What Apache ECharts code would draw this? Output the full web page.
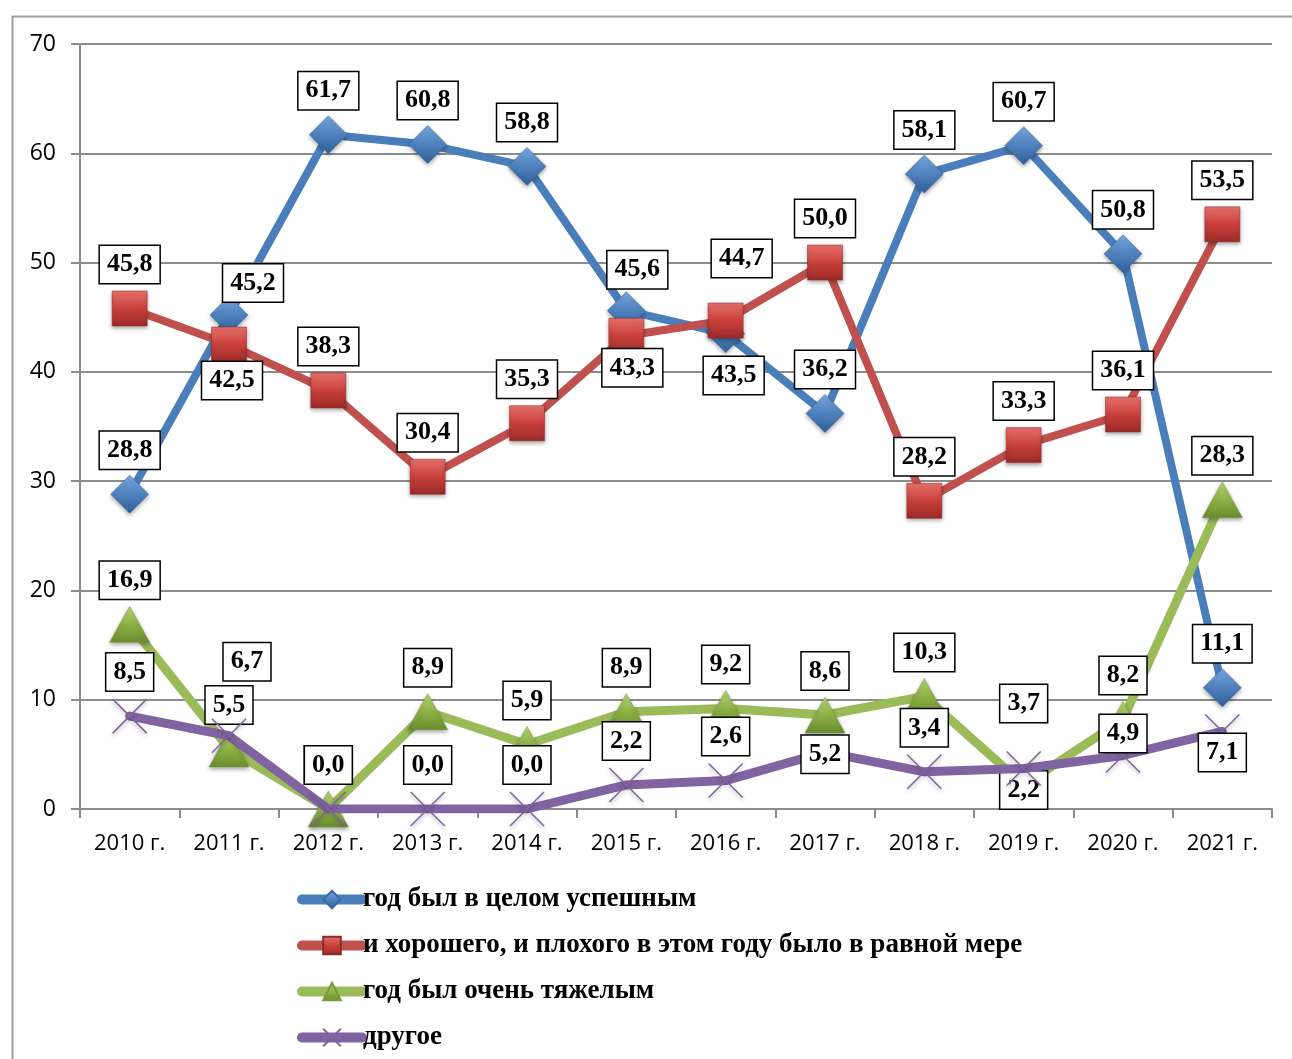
<!DOCTYPE html>
<html>
<head>
<meta charset="utf-8">
<script src="https://cdn.jsdelivr.net/npm/echarts@6/dist/echarts.min.js"></script>
<style>html,body{margin:0;padding:0;background:#fff}#c{width:1292px;height:1059px}</style>
</head>
<body>
<div id="c"></div>
<script>
// ---- data ----
const categories = ['2010 г.','2011 г.','2012 г.','2013 г.','2014 г.','2015 г.','2016 г.','2017 г.','2018 г.','2019 г.','2020 г.','2021 г.'];
const seriesNames = ['год был в целом успешным','и хорошего, и плохого в этом году было в равной мере','год был очень тяжелым','другое'];
const successful = [28.8, 45.2, 61.7, 60.8, 58.8, 45.6, 43.5, 36.2, 58.1, 60.7, 50.8, 11.1];
const mixed      = [45.8, 42.5, 38.3, 30.4, 35.3, 43.3, 44.7, 50.0, 28.2, 33.3, 36.1, 53.5];
const hard       = [16.9, 5.5, 0.0, 8.9, 5.9, 8.9, 9.2, 8.6, 10.3, 2.2, 8.2, 28.3];
const other      = [8.5, 6.7, 0.0, 0.0, 0.0, 2.2, 2.6, 5.2, 3.4, 3.7, 4.9, 7.1];
const yMin = 0, yMax = 70, yStep = 10;

// ---- layout: label nudges (series index -> point index -> [dx, dy]) ----
const defaultNudge = [0, -44];
const labelNudges = {
  0: {1: [24, -32], 5: [11, -41], 6: [8, 42]},
  1: {1: [3, 36], 5: [6, 32], 6: [16, -62]},
  2: {9: [0, 5]},
  3: {1: [18, -74], 7: [0, 2], 9: [0, -65], 10: [0, -22], 11: [0, 21]}
};

function grad(c1, c2, c3) {
  return {type: 'linear', x: 0, y: 0, x2: 0, y2: 1,
    colorStops: [{offset: 0, color: c1}, {offset: 0.5, color: c2}, {offset: 1, color: c3}]};
}

const styles = [
  {color: '#4a7ebb', width: 8, symbol: 'diamond', size: [38, 38], fill: grad('#7aa7e0', '#4f81bd', '#2f5f9a'), border: '#3a6aa5', bw: 0.5},
  {color: '#c0504d', width: 8, symbol: 'rect', size: [35, 35], fill: grad('#e8716d', '#c9403c', '#9a2a27'), border: '#8c2a27', bw: 0.5},
  {color: '#9bbb59', width: 9, symbol: 'triangle', size: [40, 36], fill: grad('#b8d678', '#8fb246', '#6b8c2e'), border: '#7a9a3e', bw: 0.5},
  {color: '#8064a2', width: 9, symbol: 'path://M0,0L10,10M10,0L0,10', size: [34, 34], fill: 'rgba(0,0,0,0)', border: '#8064a2', bw: 1.5}
];

const values = [successful, mixed, hard, other];

const series = values.map((arr, si) => {
  const st = styles[si];
  return {
    name: seriesNames[si],
    type: 'line',
    data: arr.map((v, i) => {
      const n = (labelNudges[si] && labelNudges[si][i]) || defaultNudge;
      return {value: v, label: {offset: n}};
    }),
    symbol: st.symbol,
    symbolSize: st.size,
    symbolKeepAspect: false,
    showAllSymbol: true,
    lineStyle: {color: st.color, width: st.width, join: 'round', cap: 'round'},
    itemStyle: {color: st.fill, borderColor: st.border, borderWidth: st.bw,
      shadowBlur: 4, shadowColor: 'rgba(0,0,0,0.35)', shadowOffsetY: 2},
    color: st.color,
    label: {
      show: true,
      position: 'inside',
      formatter: p => p.value.toFixed(1).replace('.', ','),
      fontFamily: 'Liberation Serif',
      fontWeight: 'bold',
      fontSize: 26,
      lineHeight: 26,
      color: '#000',
      backgroundColor: '#fff',
      borderColor: '#000',
      borderWidth: 1.5,
      padding: [6, 7, 5, 7]
    },
    emphasis: {disabled: true},
    z: 2 + si
  };
});

const chart = echarts.init(document.getElementById('c'), null, {renderer: 'canvas'});
chart.setOption({
  animation: false,
  backgroundColor: '#fff',
  graphic: [{
    type: 'rect', left: 10, top: 14, silent: true,
    shape: {width: 1320, height: 1100},
    style: {fill: 'none', stroke: '#a0a0a0', lineWidth: 2}, z: 0
  }],
  grid: {left: 80, right: 20, top: 44, bottom: 250, containLabel: false},
  xAxis: {
    type: 'category',
    data: categories,
    boundaryGap: true,
    axisLine: {lineStyle: {color: '#8c8c8c', width: 2}},
    axisTick: {show: true, length: 9, inside: false, lineStyle: {color: '#8c8c8c', width: 2}},
    axisLabel: {fontFamily: 'Open Sans', fontSize: 22, color: '#000', margin: 24},
    splitLine: {show: false}
  },
  yAxis: {
    type: 'value',
    min: yMin, max: yMax, interval: yStep,
    axisLine: {show: true, lineStyle: {color: '#8c8c8c', width: 2}},
    axisTick: {show: true, length: 9, lineStyle: {color: '#8c8c8c', width: 2}},
    axisLabel: {fontFamily: 'Open Sans', fontSize: 23, color: '#000', margin: 24},
    splitLine: {show: true, lineStyle: {color: '#8c8c8c', width: 2}}
  },
  legend: {
    orient: 'vertical',
    left: 297,
    top: 886,
    itemWidth: 60,
    itemHeight: 22,
    itemGap: 19,
    padding: 0,
    selectedMode: false,
    lineStyle: {width: 10, cap: 'round'},
    textStyle: {fontFamily: 'Liberation Serif', fontWeight: 'bold', fontSize: 27, lineHeight: 26, color: '#000', padding: [0, 0, 0, -4]},
    data: seriesNames
  },
  series: series
});
</script>
</body>
</html>
